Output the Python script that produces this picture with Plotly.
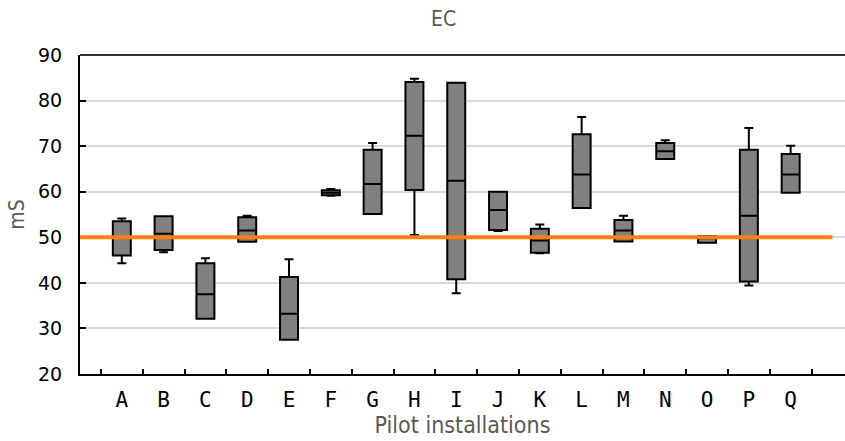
import plotly.graph_objects as go

# Pilot installations and EC box statistics (mS)
installations = list("ABCDEFGHIJKLMNOPQ")
lower_whisker = [44.3, 46.7, 32.1, 49.0, 27.5, 59.1, 55.1, 50.5, 37.7, 51.4, 46.5, 56.4, 49.1, 67.2, 48.8, 39.4, 59.8]
q1 =            [46.0, 47.2, 32.1, 49.0, 27.5, 59.2, 55.1, 60.4, 40.8, 51.6, 46.6, 56.4, 49.1, 67.2, 48.8, 40.3, 59.8]
median =        [50.0, 50.8, 37.5, 51.5, 33.2, 59.8, 61.7, 72.3, 62.4, 56.0, 49.3, 63.8, 51.5, 68.9, 49.8, 54.7, 63.8]
q3 =            [53.5, 54.6, 44.3, 54.4, 41.3, 60.3, 69.2, 84.1, 83.9, 60.0, 51.9, 72.6, 53.8, 70.7, 50.3, 69.2, 68.3]
upper_whisker = [54.1, 54.6, 45.4, 54.7, 45.2, 60.6, 70.7, 84.8, 83.9, 60.0, 52.8, 76.4, 54.7, 71.3, 50.3, 74.0, 70.1]
reference_level = 50
y_ticks = [20, 30, 40, 50, 60, 70, 80, 90]

fig = go.Figure()
fig.add_trace(go.Box(
    x=installations,
    q1=q1, median=median, q3=q3,
    lowerfence=lower_whisker, upperfence=upper_whisker,
    fillcolor="#808080",
    line=dict(color="#000000", width=2),
    width=0.43,
    whiskerwidth=0.5,
    boxpoints=False,
    hoverinfo="skip",
    showlegend=False,
))

# reference level line
fig.add_shape(type="line", xref="x", yref="y",
              x0=-1, x1=17, y0=reference_level, y1=reference_level,
              line=dict(color="#ff7f0e", width=4), layer="above")

# top border of the plot area
fig.add_shape(type="line", xref="paper", yref="paper",
              x0=0, x1=1, y0=1, y1=1,
              line=dict(color="#333333", width=2), layer="above")

tick_font = dict(family="DejaVu Sans", size=19, color="#000000")
gray = "#595959"

fig.update_layout(
    width=845, height=441,
    margin=dict(l=80, r=0, t=55, b=67),
    paper_bgcolor="white", plot_bgcolor="white",
    title=dict(text="EC", x=0.525, xanchor="center", y=0.958, yanchor="middle",
               font=dict(family="DejaVu Sans Condensed", size=21, color=gray)),
    xaxis=dict(
        type="category",
        categoryorder="array", categoryarray=installations,
        range=[-1, 17.3],
        tickson="boundaries", ticks="inside", ticklen=5, tickwidth=2, tickcolor="#000000",
        showline=True, linecolor="#000000", linewidth=2,
        showgrid=False, zeroline=False,
        ticklabelstandoff=6,
        tickfont=dict(family="DejaVu Sans Mono", size=21, color="#000000"),
        title=dict(text="Pilot installations",
                   font=dict(family="DejaVu Sans Condensed", size=23, color=gray),
                   standoff=6),
    ),
    yaxis=dict(
        range=[20, 90],
        tickmode="array", tickvals=y_ticks,
        ticks="inside", ticklen=6, tickwidth=2, tickcolor="#000000",
        ticklabelstandoff=12,
        showline=True, linecolor="#000000", linewidth=2,
        showgrid=True, gridcolor="#d9d9d9", gridwidth=1.5,
        zeroline=False,
        tickfont=tick_font,
        title=dict(text="mS", font=dict(family="DejaVu Sans Condensed", size=21, color=gray),
                   standoff=8),
    ),
)

fig.write_html("out.html")
